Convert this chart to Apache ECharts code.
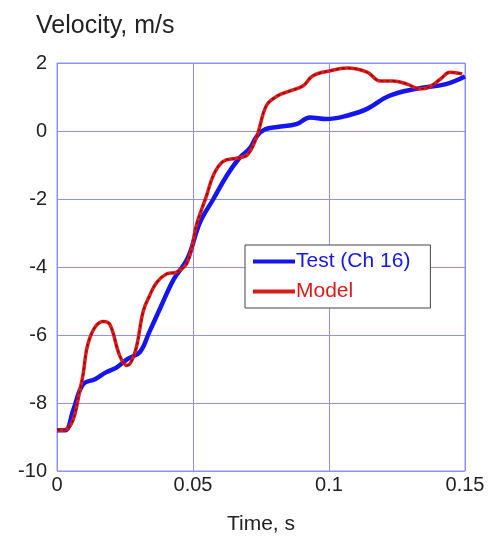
<!DOCTYPE html>
<html><head><meta charset="utf-8">
<script src="https://cdn.jsdelivr.net/npm/echarts@6/dist/echarts.min.js"></script>
<style>html,body{margin:0;padding:0;background:#fff}#c{width:489px;height:542px}</style>
</head><body><div id="c"></div>
<script>
var xTicks = [0, 0.05, 0.1, 0.15];
var yTicks = [-10, -8, -6, -4, -2, 0, 2];
var testT = [0, 0.003, 0.006, 0.0096, 0.014, 0.018, 0.022, 0.026, 0.0305, 0.034, 0.038, 0.043, 0.048, 0.0525, 0.0575, 0.0625, 0.067, 0.071, 0.0735, 0.0765, 0.081, 0.088, 0.093, 0.099, 0.1066, 0.114, 0.122, 0.132, 0.143, 0.15];
var testV = [-8.8, -8.8, -8.2, -7.45, -7.3, -7.1, -6.95, -6.7, -6.5, -5.9, -5.2, -4.35, -3.75, -2.7, -2.0, -1.3, -0.8, -0.5, -0.15, 0.05, 0.12, 0.2, 0.4, 0.35, 0.45, 0.65, 1.03, 1.24, 1.38, 1.6];
var modelT = [0, 0.004, 0.009, 0.012, 0.017, 0.0195, 0.023, 0.0257, 0.0287, 0.0317, 0.034, 0.0367, 0.0404, 0.044, 0.048, 0.0515, 0.055, 0.0575, 0.061, 0.066, 0.07, 0.0735, 0.077, 0.081, 0.0857, 0.0905, 0.094, 0.1004, 0.1066, 0.114, 0.1188, 0.1235, 0.1287, 0.1335, 0.137, 0.141, 0.1445, 0.149];
var modelV = [-8.8, -8.75, -7.4, -6.1, -5.6, -5.7, -6.6, -6.9, -6.5, -5.3, -4.85, -4.45, -4.2, -4.15, -3.85, -2.7, -1.9, -1.3, -0.9, -0.8, -0.7, -0.15, 0.75, 1.03, 1.18, 1.33, 1.62, 1.77, 1.85, 1.73, 1.47, 1.47, 1.38, 1.24, 1.3, 1.53, 1.73, 1.68];
var seriesNames = ['Test (Ch 16)', 'Model'];

function pairs(t, v){ return t.map(function(x,i){ return [x, v[i]]; }); }
var chart = echarts.init(document.getElementById('c'));
var font = 'Liberation Sans, Arial, sans-serif';
var gridColor = '#8f8ff8';
chart.setOption({
  animation: false,
  backgroundColor: '#fff',
  grid: {left: 57, right: 24, top: 63, bottom: 71, show: true, borderColor: gridColor, borderWidth: 1, containLabel: false, outerBoundsMode: 'none'},
  title: {text: 'Velocity, m/s', left: 31, top: 9, textStyle: {fontFamily: font, fontSize: 25, fontWeight: 'normal', color: '#222'}},
  legend: {
    data: [
      {name: seriesNames[0], icon: 'rect', itemStyle: {color: '#1515ee'}, textStyle: {color: '#1515ee'}},
      {name: seriesNames[1], icon: 'rect', itemStyle: {color: '#dd1a1a'}, textStyle: {color: '#dd1a1a'}}
    ],
    orient: 'vertical', left: 245, top: 245,
    itemWidth: 42, itemHeight: 4, itemGap: 9, padding: [6, 20, 6, 8],
    borderColor: '#444', borderWidth: 1, backgroundColor: '#fff',
    textStyle: {fontFamily: font, fontSize: 21, padding: [0, 0, 0, -4]}
  },
  xAxis: {
    type: 'value', min: 0, max: 0.15, interval: 0.05,
    name: 'Time, s', nameLocation: 'middle', nameGap: 43,
    nameTextStyle: {fontFamily: font, fontSize: 21, color: '#222'},
    axisLine: {show: false}, axisTick: {show: false},
    axisLabel: {fontFamily: font, fontSize: 20, color: '#222', margin: 4, formatter: function(v){ return xTicks.indexOf(+v.toFixed(2)) >= 0 ? String(+v.toFixed(2)) : ''; }},
    splitLine: {lineStyle: {color: gridColor, width: 1}}
  },
  yAxis: {
    type: 'value', min: -10, max: 2, interval: 2,
    axisLine: {show: false}, axisTick: {show: false},
    axisLabel: {fontFamily: font, fontSize: 20, color: '#222', margin: 10, verticalAlign: 'middle', padding: [0, 0, 7, 0], formatter: function(v){ return yTicks.indexOf(v) >= 0 ? String(v) : ''; }},
    splitLine: {lineStyle: {color: gridColor, width: 1}}
  },
  series: [
    {name: seriesNames[0], type: 'line', data: pairs(testT, testV), smooth: 0.4, symbol: 'none',
     itemStyle: {color: '#1515ee'}, lineStyle: {color: '#1515ee', width: 4.5}, z: 2},
    {name: seriesNames[1], type: 'line', data: pairs(modelT, modelV), smooth: 0.4, symbol: 'none',
     itemStyle: {color: '#dd1a1a'}, lineStyle: {color: '#e21a1a', width: 3.5}, z: 3},
    {name: seriesNames[1] + ' dash', type: 'line', data: pairs(modelT, modelV), smooth: 0.4, symbol: 'none',
     lineStyle: {color: '#8a0c0c', width: 1.6, type: [3, 3]}, z: 4, silent: true}
  ]
});
</script></body></html>
